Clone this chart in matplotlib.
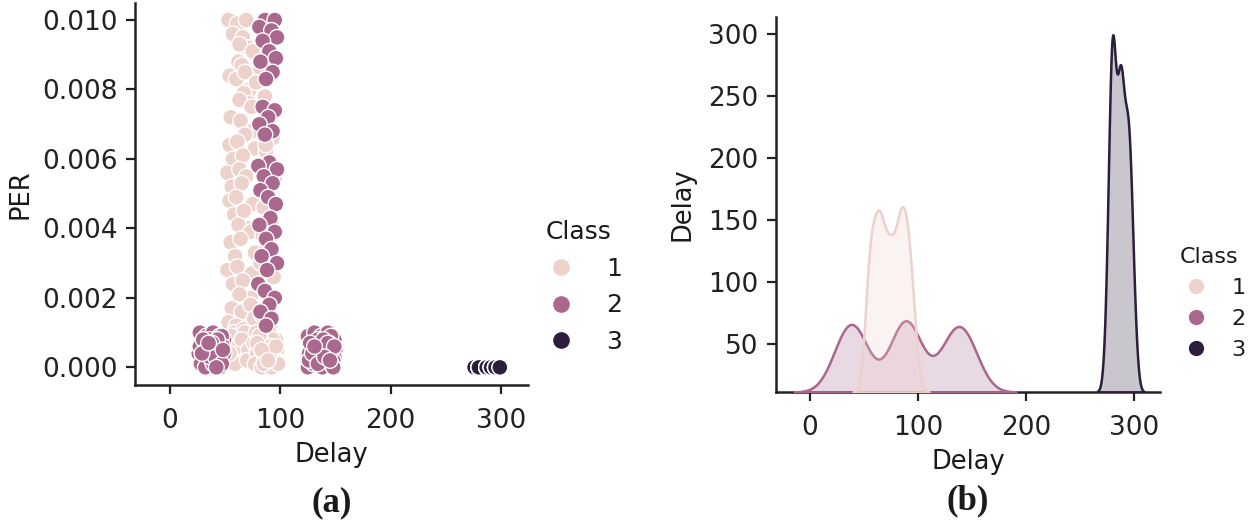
import pandas as pd
import matplotlib
matplotlib.use('Agg')
import matplotlib.pyplot as plt
from matplotlib.lines import Line2D
from matplotlib.ticker import FormatStrFormatter
import seaborn as sns

# Clase 1: columna izquierda (PER alto)
c1_col_delay = [53, 61, 69, 57, 66, 71, 63, 75, 62, 65, 54, 60, 68, 72, 67, 72, 63, 74, 55, 64,
                74, 68, 54, 61, 77, 57, 66, 52, 63, 69, 56, 65, 54, 60, 75, 58, 67, 70, 62, 73,
                55, 64, 59, 77, 52, 61, 74, 57, 66, 73, 63, 56, 65, 73, 53, 60, 58, 67, 76, 55]
c1_col_per = [0.0100, 0.0099, 0.0100, 0.0096, 0.0095, 0.0092, 0.0093, 0.0091, 0.0088, 0.0087,
              0.0084, 0.0083, 0.0085, 0.0080, 0.0079, 0.0076, 0.0077, 0.0075, 0.0072, 0.0071,
              0.0068, 0.0067, 0.0064, 0.0065, 0.0063, 0.0060, 0.0061, 0.0056, 0.0057, 0.0055,
              0.0052, 0.0053, 0.0048, 0.0049, 0.0047, 0.0044, 0.0045, 0.0040, 0.0041, 0.0039,
              0.0036, 0.0037, 0.0032, 0.0033, 0.0028, 0.0029, 0.0027, 0.0024, 0.0025, 0.0020,
              0.0021, 0.0017, 0.0016, 0.0018, 0.0013, 0.0012, 0.0010, 0.0011, 0.0014, 0.0008]
# Clase 1: puntos tapados por la columna de la clase 2
c1_hid_delay = [84, 91, 88, 82, 78, 86, 90, 83, 93, 87, 81, 95, 89, 85, 92, 84, 88, 82, 94, 86,
                90, 83, 91, 87]
c1_hid_per = [0.0099, 0.0095, 0.0090, 0.0086, 0.0082, 0.0078, 0.0074, 0.0070, 0.0066, 0.0062,
              0.0058, 0.0054, 0.0050, 0.0046, 0.0042, 0.0038, 0.0034, 0.0030, 0.0026, 0.0022,
              0.0018, 0.0015, 0.0012, 0.0064]
# Clase 1: grupo inferior
c1_bot_delay = [56, 62, 68, 73, 59, 65, 71, 76, 54, 70, 78, 84, 90, 96, 80, 87, 93, 82, 79, 85,
                91, 97, 82, 88, 94, 79, 77, 83, 89, 95, 81, 86, 92, 98, 79, 85, 91, 96, 83, 89]
c1_bot_per = [0.0009, 0.0006, 0.0010, 0.0003, 0.0001, 0.0008, 0.0005, 0.0007, 0.0004, 0.0002,
              0.0010, 0.0009, 0.0010, 0.0008, 0.0007, 0.0006, 0.0008, 0.0009, 0.0005, 0.0004,
              0.0006, 0.0005, 0.0003, 0.0002, 0.0003, 0.0004, 0.0001, 0.0000, 0.0001, 0.0002,
              0.0009, 0.0003, 0.0000, 0.0001, 0.0007, 0.0001, 0.0004, 0.0006, 0.0005, 0.0002]

# Clase 2: grupo izquierdo, columna central y grupo derecho
c2_izq_delay = [27, 33, 39, 45, 49, 29, 36, 42, 47, 31, 38, 44, 26, 34, 41, 48, 30, 37, 43, 28,
                35, 40, 46, 32, 39, 45, 27, 36, 43, 49, 30, 38, 44, 33, 41, 47, 29, 35, 42, 48]
c2_izq_per = [0.0010, 0.0009, 0.0010, 0.0009, 0.0008, 0.0007, 0.0008, 0.0007, 0.0009, 0.0006,
              0.0005, 0.0006, 0.0004, 0.0005, 0.0004, 0.0006, 0.0003, 0.0002, 0.0003, 0.0001,
              0.0002, 0.0001, 0.0002, 0.0000, 0.0001, 0.0000, 0.0006, 0.0003, 0.0008, 0.0004,
              0.0008, 0.0007, 0.0002, 0.0005, 0.0003, 0.0001, 0.0004, 0.0007, 0.0000, 0.0005]
c2_col_delay = [86, 95, 81, 92, 97, 84, 90, 96, 82, 93, 87, 84, 95, 89, 81, 93, 86, 90, 80, 97,
                85, 93, 82, 89, 96, 91, 81, 95, 87, 92, 83, 97, 88, 80, 86, 95, 90, 82, 92, 87]
c2_col_per = [0.0100, 0.0100, 0.0098, 0.0097, 0.0095, 0.0094, 0.0091, 0.0089, 0.0088, 0.0085,
              0.0083, 0.0075, 0.0074, 0.0072, 0.0070, 0.0068, 0.0067, 0.0059, 0.0058, 0.0057,
              0.0055, 0.0053, 0.0051, 0.0049, 0.0047, 0.0043, 0.0041, 0.0039, 0.0037, 0.0034,
              0.0032, 0.0030, 0.0028, 0.0024, 0.0022, 0.0020, 0.0018, 0.0016, 0.0014, 0.0012]
c2_der_delay = [125, 131, 137, 143, 149, 128, 134, 140, 146, 150, 126, 133, 139, 145, 149, 129,
                136, 142, 148, 125, 130, 138, 144, 127, 135, 141, 147, 132, 139, 146, 126, 137,
                143, 149, 129, 134, 140, 148, 131, 145]
c2_der_per = [0.0009, 0.0010, 0.0009, 0.0010, 0.0008, 0.0006, 0.0008, 0.0007, 0.0009, 0.0005,
              0.0004, 0.0005, 0.0006, 0.0004, 0.0003, 0.0002, 0.0003, 0.0001, 0.0002, 0.0000,
              0.0001, 0.0000, 0.0007, 0.0007, 0.0004, 0.0002, 0.0005, 0.0003, 0.0008, 0.0001,
              0.0002, 0.0005, 0.0007, 0.0006, 0.0004, 0.0001, 0.0003, 0.0000, 0.0006, 0.0002]

# Clase 3 (todos con PER = 0)
c3_delay = [276, 276, 280, 280, 280, 280, 280, 280, 280, 280, 280, 280, 287, 287, 287, 287, 287,
            287, 287, 287, 291, 291, 291, 295, 295, 295, 295, 295, 295, 299, 299]
c3_per = [0.0] * len(c3_delay)

clases = [1, 2, 3]
bw_clase = {1: 0.8, 2: 0.85, 3: 0.95}

delay_1 = c1_col_delay + c1_hid_delay + c1_bot_delay
per_1 = c1_col_per + c1_hid_per + c1_bot_per
delay_2 = c2_izq_delay + c2_col_delay + c2_der_delay
per_2 = c2_izq_per + c2_col_per + c2_der_per

df = pd.DataFrame({
    'Delay': delay_1 + delay_2 + c3_delay,
    'PER': per_1 + per_2 + c3_per,
    'Class': [1] * len(delay_1) + [2] * len(delay_2) + [3] * len(c3_delay),
})

colores = sns.cubehelix_palette(3)
paleta = {c: colores[i] for i, c in enumerate(clases)}

sns.set_style('ticks')
plt.rcParams['font.family'] = ['DejaVu Sans']
plt.rcParams['axes.edgecolor'] = '#222222'
plt.rcParams['axes.linewidth'] = 1.8
plt.rcParams['xtick.color'] = '#222222'
plt.rcParams['ytick.color'] = '#222222'
plt.rcParams['xtick.major.width'] = 1.6
plt.rcParams['ytick.major.width'] = 1.6
plt.rcParams['xtick.major.size'] = 6.5
plt.rcParams['ytick.major.size'] = 6.5
plt.rcParams['xtick.labelsize'] = 19
plt.rcParams['ytick.labelsize'] = 19
plt.rcParams['axes.labelsize'] = 18.5
plt.rcParams['text.color'] = '#1a1a1a'
plt.rcParams['axes.labelcolor'] = '#1a1a1a'

fig = plt.figure(figsize=(12.55, 5.23), dpi=100)
ax_a = fig.add_axes([0.1076, 0.2639, 0.3131, 0.7304])
ax_b = fig.add_axes([0.6183, 0.2505, 0.3060, 0.7170])

# (a) dispersion
sns.scatterplot(data=df, x='Delay', y='PER', hue='Class', palette=paleta, s=130,
                edgecolor='white', linewidth=1.0, legend=False, ax=ax_a)
ax_a.set_xlim(-31.7, 324.5)
ax_a.set_ylim(-0.000508, 0.01049)
ax_a.set_xticks([0, 100, 200, 300])
ax_a.set_yticks([0, 0.002, 0.004, 0.006, 0.008, 0.010])
ax_a.yaxis.set_major_formatter(FormatStrFormatter('%.3f'))
ax_a.tick_params(axis='y', pad=6)
ax_a.tick_params(axis='x', pad=10)
ax_a.set_xlabel('Delay', labelpad=6)
ax_a.set_ylabel('PER', labelpad=6)
sns.despine(ax=ax_a)

manejadores = [Line2D([], [], marker='o', linestyle='', markersize=13, markerfacecolor=paleta[c],
                      markeredgecolor='white', markeredgewidth=1.0) for c in clases]
ax_a.legend(manejadores, [str(c) for c in clases], title='Class', frameon=False, fontsize=18,
            title_fontsize=18, loc='center left', bbox_to_anchor=(0.409, 0.451),
            bbox_transform=fig.transFigure)

# (b) densidad
ax_k = ax_b.twinx()
for c in [3, 2, 1]:
    sns.kdeplot(x=df.loc[df['Class'] == c, 'Delay'], ax=ax_k, fill=True, color=paleta[c],
                bw_adjust=bw_clase[c], linewidth=1.8, alpha=0.25)
ax_k.set_ylim(bottom=0)
ax_k.set_ylabel('')
ax_k.set_yticks([])
for lado in ax_k.spines.values():
    lado.set_visible(False)

ax_b.set_xlim(-31.5, 324)
ax_b.set_ylim(11.5, 314)
ax_b.set_xticks([0, 100, 200, 300])
ax_b.set_yticks([50, 100, 150, 200, 250, 300])
ax_b.set_xlabel('Delay', labelpad=6)
ax_b.set_ylabel('Delay', labelpad=9)
ax_b.tick_params(axis='y', pad=6)
ax_b.tick_params(axis='x', pad=10)
sns.despine(ax=ax_b)

manejadores_b = [Line2D([], [], marker='o', linestyle='', markersize=12, markerfacecolor=paleta[c],
                        markeredgecolor='white', markeredgewidth=1.0) for c in clases]
ax_b.legend(manejadores_b, [str(c) for c in clases], title='Class', frameon=False, fontsize=16,
            title_fontsize=16, loc='center left', bbox_to_anchor=(0.919, 0.42),
            bbox_transform=fig.transFigure, handletextpad=0.6)

fig.text(332 / 1255, 1 - 503 / 523, '(a)', ha='center', va='center', fontsize=25,
         fontweight='bold', family='Liberation Serif')
fig.text(968 / 1255, 1 - 501 / 523, '(b)', ha='center', va='center', fontsize=25,
         fontweight='bold', family='Liberation Serif')

fig.savefig('out.png', dpi=100)
